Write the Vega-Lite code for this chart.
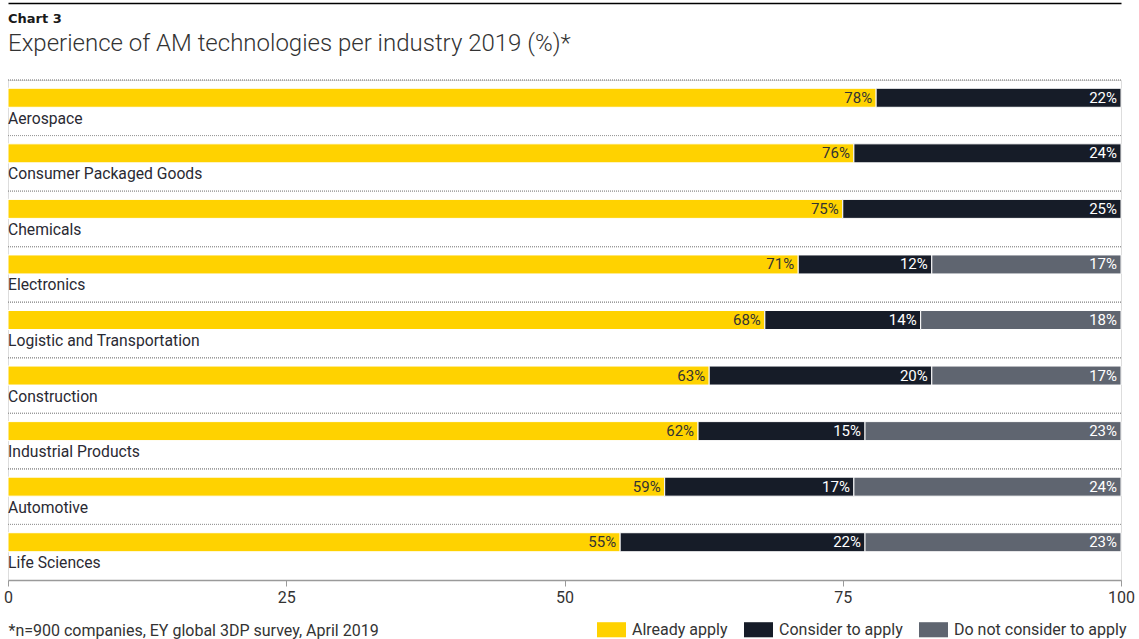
{
  "$schema": "https://vega.github.io/schema/vega-lite/v6.json",
  "width": 1113,
  "height": 500,
  "autosize": {"type": "none"},
  "padding": {"left": 8, "top": 80, "right": 18, "bottom": 59},
  "background": "white",
  "title": {
    "text": "Chart 3",
    "subtitle": "Experience of AM technologies per industry 2019 (%)*",
    "anchor": "start",
    "frame": "group",
    "font": "DejaVu Sans",
    "fontSize": 13,
    "fontWeight": "bold",
    "color": "#1a1a1a",
    "subtitleFont": "Roboto",
    "subtitleFontSize": 24,
    "subtitleFontWeight": 300,
    "subtitleColor": "#333333",
    "subtitlePadding": 6,
    "offset": -53
  },
  "data": {
    "values": [
      {"industry": "Aerospace", "status": "Already apply", "ord": 1, "pct": 78},
      {"industry": "Aerospace", "status": "Consider to apply", "ord": 2, "pct": 22},
      {"industry": "Consumer Packaged Goods", "status": "Already apply", "ord": 1, "pct": 76},
      {"industry": "Consumer Packaged Goods", "status": "Consider to apply", "ord": 2, "pct": 24},
      {"industry": "Chemicals", "status": "Already apply", "ord": 1, "pct": 75},
      {"industry": "Chemicals", "status": "Consider to apply", "ord": 2, "pct": 25},
      {"industry": "Electronics", "status": "Already apply", "ord": 1, "pct": 71},
      {"industry": "Electronics", "status": "Consider to apply", "ord": 2, "pct": 12},
      {"industry": "Electronics", "status": "Do not consider to apply", "ord": 3, "pct": 17},
      {"industry": "Logistic and Transportation", "status": "Already apply", "ord": 1, "pct": 68},
      {"industry": "Logistic and Transportation", "status": "Consider to apply", "ord": 2, "pct": 14},
      {"industry": "Logistic and Transportation", "status": "Do not consider to apply", "ord": 3, "pct": 18},
      {"industry": "Construction", "status": "Already apply", "ord": 1, "pct": 63},
      {"industry": "Construction", "status": "Consider to apply", "ord": 2, "pct": 20},
      {"industry": "Construction", "status": "Do not consider to apply", "ord": 3, "pct": 17},
      {"industry": "Industrial Products", "status": "Already apply", "ord": 1, "pct": 62},
      {"industry": "Industrial Products", "status": "Consider to apply", "ord": 2, "pct": 15},
      {"industry": "Industrial Products", "status": "Do not consider to apply", "ord": 3, "pct": 23},
      {"industry": "Automotive", "status": "Already apply", "ord": 1, "pct": 59},
      {"industry": "Automotive", "status": "Consider to apply", "ord": 2, "pct": 17},
      {"industry": "Automotive", "status": "Do not consider to apply", "ord": 3, "pct": 24},
      {"industry": "Life Sciences", "status": "Already apply", "ord": 1, "pct": 55},
      {"industry": "Life Sciences", "status": "Consider to apply", "ord": 2, "pct": 22},
      {"industry": "Life Sciences", "status": "Do not consider to apply", "ord": 3, "pct": 23}
    ]
  },
  "transform": [
    {"stack": "pct", "groupby": ["industry"], "sort": [{"field": "ord", "order": "ascending"}], "as": ["v0", "v1"]},
    {"calculate": "datum.pct + '%'", "as": "label"}
  ],
  "encoding": {
    "y": {
      "field": "industry",
      "type": "nominal",
      "sort": ["Aerospace", "Consumer Packaged Goods", "Chemicals", "Electronics", "Logistic and Transportation", "Construction", "Industrial Products", "Automotive", "Life Sciences"],
      "axis": null,
      "scale": {"paddingInner": 0, "paddingOuter": 0}
    }
  },
  "resolve": {"axis": {"x": "independent"}},
  "layer": [
    {
      "mark": {"type": "rule", "strokeDash": [1, 1], "color": "#9a9a9a", "strokeWidth": 1},
      "encoding": {
        "y": {
          "field": "industry",
          "type": "nominal",
          "bandPosition": 0,
          "sort": ["Aerospace", "Consumer Packaged Goods", "Chemicals", "Electronics", "Logistic and Transportation", "Construction", "Industrial Products", "Automotive", "Life Sciences"]
        }
      }
    },
    {
      "mark": {"type": "bar", "size": 19, "yOffset": -10, "stroke": "#ffffff", "strokeWidth": 1},
      "encoding": {
        "x": {
          "field": "v0",
          "type": "quantitative",
          "scale": {"domain": [0, 100], "nice": false},
          "axis": {
            "orient": "bottom",
            "values": [0, 25, 50, 75, 100],
            "grid": false,
            "domainColor": "#9a9a9a",
            "domainWidth": 1.5,
            "tickColor": "#9a9a9a",
            "tickSize": 6,
            "labelFont": "Roboto",
            "labelFontSize": 16,
            "labelColor": "#333333",
            "labelPadding": 3,
            "labelFlush": false,
            "title": "*n=900 companies, EY global 3DP survey, April 2019",
            "titleFont": "Roboto",
            "titleFontSize": 16,
            "titleFontWeight": "normal",
            "titleColor": "#333333",
            "titleAnchor": "start",
            "titleAlign": "left",
            "titlePadding": 17
          }
        },
        "x2": {"field": "v1"},
        "color": {
          "field": "status",
          "type": "nominal",
          "scale": {
            "domain": ["Already apply", "Consider to apply", "Do not consider to apply"],
            "range": ["#FFD200", "#161C28", "#5F6570"]
          },
          "legend": {
            "orient": "none",
            "legendX": 589,
            "legendY": 535,
            "direction": "horizontal",
            "title": null,
            "symbolType": "M-1,-0.52H1V0.52H-1Z",
            "symbolSize": 841,
            "symbolStrokeWidth": 0,
            "labelFont": "Roboto",
            "labelFontSize": 16,
            "labelLimit": 400,
            "labelColor": "#333333",
            "labelOffset": 6,
            "columnPadding": 16,
            "padding": 0
          }
        }
      }
    },
    {
      "mark": {"type": "text", "align": "right", "baseline": "middle", "dx": -4, "yOffset": -10, "font": "Roboto", "fontSize": 15},
      "encoding": {
        "x": {
          "field": "v1",
          "type": "quantitative",
          "axis": {"orient": "top", "offset": 77, "labels": false, "ticks": false, "grid": false, "domainColor": "#000000", "domainWidth": 1.5, "title": null}
        },
        "text": {"field": "label"},
        "color": {"condition": {"test": "datum.status === 'Already apply'", "value": "#333333"}, "value": "#ffffff"}
      }
    },
    {
      "transform": [{"filter": "datum.status === 'Already apply'"}],
      "mark": {"type": "text", "align": "left", "baseline": "middle", "dy": 11, "font": "Roboto", "fontSize": 15.7, "color": "#2a2a33"},
      "encoding": {
        "x": {"datum": 0, "axis": null},
        "text": {"field": "industry"}
      }
    }
  ]
}
